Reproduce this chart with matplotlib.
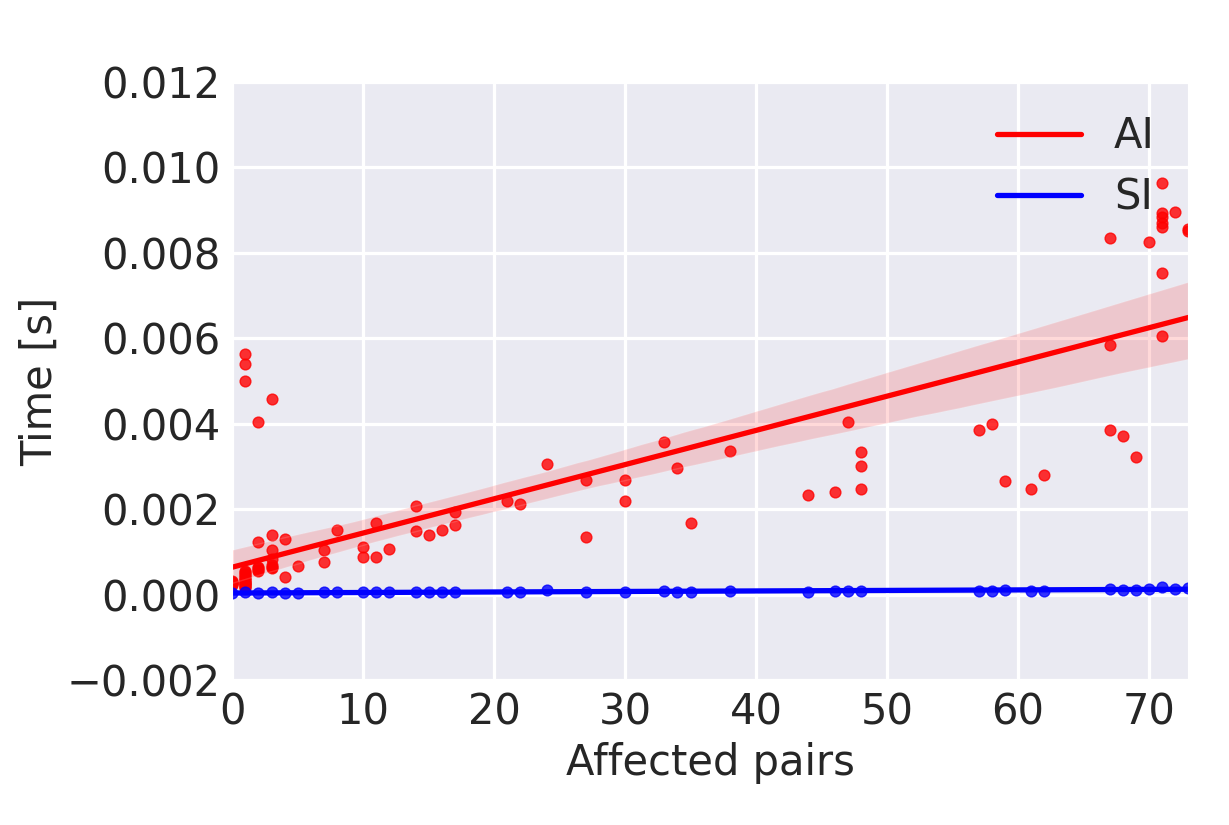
import numpy as np
import matplotlib
matplotlib.use("Agg")
import matplotlib.pyplot as plt
import seaborn as sns

# AI timings in ms (converted to s below)
ai_x = [0, 0, 0, 0, 0, 0, 0,
        1, 1, 1, 1, 1, 1, 1, 1, 1, 1, 1, 1, 1, 1, 1, 1, 1, 1, 1,
        2, 2, 2, 2, 2, 2,
        3, 3, 3, 3, 3, 3, 3,
        4, 4, 5, 7, 7, 8, 10, 10, 11, 11, 12, 14, 14, 15, 16, 17, 17,
        21, 22, 24, 27, 27, 30, 30, 33, 34, 35, 38,
        44, 46, 47, 48, 48, 48, 57, 58, 59, 61, 62,
        67, 67, 67, 68, 69, 70,
        71, 71, 71, 71, 71, 71, 71, 72, 73, 73]
ai_ms = [0.31, 0.30, 0.28, 0.28, 0.27, 0.25, 0.22,
         5.64, 5.39, 5.00, 0.55, 0.52, 0.47, 0.45, 0.40, 0.38, 0.35, 0.33, 0.30, 0.28, 0.26, 0.24,
         0.22, 0.20, 0.18, 0.15,
         4.04, 1.23, 0.64, 0.62, 0.58, 0.55,
         4.57, 1.39, 1.05, 0.84, 0.70, 0.65, 0.62,
         1.30, 0.41, 0.66, 1.05, 0.76, 1.52, 1.11, 0.89, 1.67, 0.89, 1.07, 2.07, 1.48, 1.39, 1.52, 1.94, 1.63,
         2.18, 2.12, 3.06, 2.69, 1.34, 2.68, 2.20, 3.58, 2.97, 1.68, 3.36,
         2.33, 2.40, 4.05, 3.33, 3.02, 2.46, 3.85, 4.00, 2.66, 2.47, 2.81,
         8.34, 5.85, 3.85, 3.72, 3.22, 8.25,
         9.63, 8.94, 8.85, 8.70, 8.60, 7.52, 6.05, 8.95, 8.55, 8.50]

# SI timings in ms
si_x = [0, 1, 2, 3, 4, 5, 7, 8, 10, 11, 12, 14, 15, 16, 17, 21, 22, 24, 27, 30,
        33, 34, 35, 38, 44, 46, 47, 48, 57, 58, 59, 61, 62, 67, 68, 69, 70, 71, 72, 73]
si_ms = [0.04, 0.05, 0.04, 0.05, 0.04, 0.04, 0.05, 0.05, 0.05, 0.05, 0.05, 0.05, 0.05, 0.05, 0.05,
         0.06, 0.06, 0.10, 0.07, 0.06, 0.08, 0.07, 0.07, 0.08, 0.07, 0.08, 0.08, 0.08, 0.09, 0.09,
         0.10, 0.09, 0.09, 0.12, 0.11, 0.11, 0.14, 0.18, 0.14, 0.15]

ai_y = np.array(ai_ms) * 1e-3
si_y = np.array(si_ms) * 1e-3

sns.set_style("darkgrid")
plt.rcParams['font.family'] = ['DejaVu Sans']
plt.rcParams['grid.linewidth'] = 2.3
fs = 30

fig = plt.figure(figsize=(12.29, 8.25), dpi=100)
ax = fig.add_axes([0.189, 0.1758, 0.7777, 0.7248])

sns.regplot(x=np.array(ai_x), y=ai_y, ax=ax, color="red", truncate=False,
            scatter_kws={"s": 60}, line_kws={"label": "AI", "lw": 3.8}, seed=1)
sns.regplot(x=np.array(si_x), y=si_y, ax=ax, color="blue", truncate=False,
            scatter_kws={"s": 60}, line_kws={"label": "SI", "lw": 3.8}, seed=1)

ax.set_xlim(0, 73)
ax.set_ylim(-0.002, 0.012)
ax.set_xticks(range(0, 80, 10))
ax.set_yticks(np.arange(-0.002, 0.0121, 0.002))
ax.yaxis.set_major_formatter(matplotlib.ticker.FuncFormatter(
    lambda v, p: ("%.3f" % v).replace("-", "\u2212")))
ax.tick_params(labelsize=fs, pad=5)
ax.set_xlabel("Affected pairs", fontsize=fs, labelpad=6)
ax.set_ylabel("Time [s]", fontsize=fs, labelpad=4)

ax.legend(loc="upper right", fontsize=fs, frameon=False, handlelength=2.0,
          borderaxespad=0.4, labelspacing=0.45)

fig.savefig("out.png", dpi=100)
